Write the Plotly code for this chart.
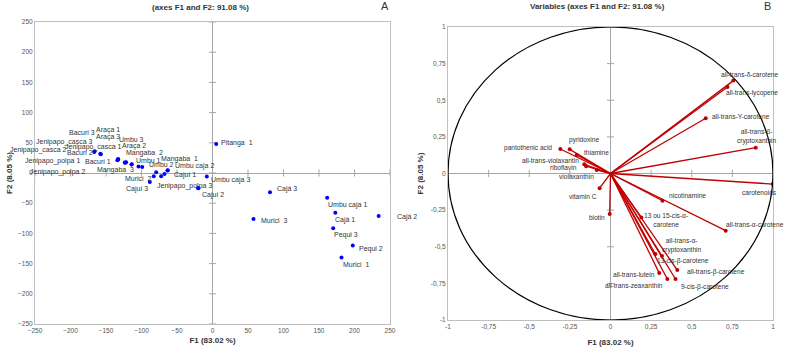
import plotly.graph_objects as go

# ---------------- Observations (panel A) ----------------
obs_labels = ["Jenipapo_casca 2", "Jenipapo_casca 3", "Jenipapo_casca 1", "Bacuri 2", "Bacuri 3",
              "Bacuri 1", "Jenipapo_polpa 1", "Araça 1", "Araça 3", "Jenipapo_polpa 2",
              "Umbu 3", "Araça 2", "Mangaba  2", "Umbu 1", "Umbu 2",
              "Mangaba  1", "Umbu caja 2", "Mangaba  3", "Murici  2", "Cajuí 1",
              "Cajuí 3", "Umbu caja 3", "Jenipapo_polpa 3", "Cajuí 2", "Pitanga  1",
              "Cajá 3", "Murici  3", "Umbu caja 1", "Cajá 1", "Pequi 3",
              "Pequi 2", "Murici  1", "Cajá 2"]
obs_f1 = [-166.6, -166.0, -157.3, -158.0, -133.0,
          -132.8, -134.0, -123.5, -121.6, -123.0,
          -113.7, -114.0, -104.2, -99.0, -79.3,
          -63.4, -63.0, -67.6, -82.7, -72.3,
          -88.3, -8.0, -20.1, -20.0, 5.2,
          81.0, 57.7, 161.5, 173.0, 170.0,
          197.6, 181.7, 234.0]
obs_f2 = [34.8, 36.0, 31.0, 32.0, 23.0,
          22.2, 21.0, 17.2, 17.7, 17.0,
          14.4, 14.0, 10.6, 9.9, 1.2,
          4.0, 4.5, -1.7, -5.5, -5.5,
          -14.9, -6.0, -25.3, -25.0, 48.0,
          -32.0, -76.0, -40.8, -66.0, -91.6,
          -120.0, -140.0, -71.0]
# label offsets in pixels (style)
obs_dx = [-56, -30, -7, -20, -36, -20.5, -65, -16.5, -18, -68,
          0, 2, 5.5, 6, 5, 12.5, 27, -49.5, -15.5, 24,
          -12.5, 24, -14, 15, 21, 17, 21.5, 20, 10, 12.5,
          18, 14.5, 28.5]
obs_dy = [2, 9, 7, 1, 27, -2, -1, 33, 25, -9,
          25, 18.5, 14, 7, 8, 12, 4, 4, -2, 1,
          -7, -3.5, 2.5, -6.5, 1, 3, -2, -7, -7, -7,
          -3.5, -7, -1.5]

obs_ticks = [-250, -200, -150, -100, -50, 0, 50, 100, 150, 200, 250]

# ---------------- Variables (panel B) ----------------
var_labels = ["all-trans-δ-carotene", "all-trans-lycopene", "all-trans-Y-carotene",
              "all-trans-β-<br>cryptoxanthin", "carotenoids", "pantothenic acid", "pyridoxine",
              "thiamine", "all-trans-violaxantin", "riboflavin", "violaxanthin", "vitamin C",
              "biotin", "nicotinamine", "all-trans-α-carotene", "13 ou 15-cis-α-<br>carotene",
              "all-trans-α-<br>cryptoxanthin", "13-cis-β-carotene", "all-trans-β-carotene",
              "all-trans-lutein", "all-trans-zeaxanthin", "9-cis-β-carotene"]
var_f1 = [0.756, 0.720, 0.586, 0.894, 0.998, -0.309, -0.251, -0.208, -0.161, -0.150, -0.085,
          -0.067, -0.005, 0.320, 0.709, 0.190, 0.317, 0.276, 0.411, 0.300, 0.350, 0.400]
var_f2 = [0.634, 0.590, 0.377, 0.176, -0.072, 0.167, 0.165, 0.126, 0.063, 0.050, 0.024,
          -0.100, -0.276, -0.186, -0.390, -0.300, -0.563, -0.550, -0.659, -0.680, -0.720, -0.720]
var_dx = [17, 24.5, 35, 1, -13, -32, 14, 20, -34, -23, -20, -17,
          -13, 25, 29, 25, 20, 28, 39, -25, -33, 29]
var_dy = [6, -6, 2, 11, -8, 1, 9, 3, 4, -1, -7, -8,
          -4, 5, 6, -2.5, 10.5, -6.6, -2, -1, -7, -8]

var_ticks = [-1, -0.75, -0.5, -0.25, 0, 0.25, 0.5, 0.75, 1]
var_ticktext = ["-1", "-0,75", "-0,5", "-0,25", "0", "0,25", "0,5", "0,75", "1"]

RED = "#C00000"
GRAY = "#A6A6A6"
TXT = "#333333"
FONT = "Liberation Sans, Arial, sans-serif"

fig = go.Figure()

# zero-axis tick marks (panel A)
fig.add_trace(go.Scatter(x=[0] * len(obs_ticks), y=obs_ticks, mode="markers",
                         marker=dict(symbol="line-ew", size=5, line=dict(color=GRAY, width=1)),
                         xaxis="x", yaxis="y", hoverinfo="skip", showlegend=False))
fig.add_trace(go.Scatter(x=obs_ticks, y=[0] * len(obs_ticks), mode="markers",
                         marker=dict(symbol="line-ns", size=5, line=dict(color=GRAY, width=1)),
                         xaxis="x", yaxis="y", hoverinfo="skip", showlegend=False))
# observations
fig.add_trace(go.Scatter(x=obs_f1, y=obs_f2, mode="markers",
                         marker=dict(color="#0000FF", size=4),
                         xaxis="x", yaxis="y", showlegend=False, text=obs_labels))

# zero-axis tick marks (panel B)
fig.add_trace(go.Scatter(x=[0] * len(var_ticks), y=var_ticks, mode="markers",
                         marker=dict(symbol="line-ew", size=5, line=dict(color=GRAY, width=1)),
                         xaxis="x2", yaxis="y2", hoverinfo="skip", showlegend=False))
fig.add_trace(go.Scatter(x=var_ticks, y=[0] * len(var_ticks), mode="markers",
                         marker=dict(symbol="line-ns", size=5, line=dict(color=GRAY, width=1)),
                         xaxis="x2", yaxis="y2", hoverinfo="skip", showlegend=False))

# vectors
vx, vy = [], []
for a, b in zip(var_f1, var_f2):
    vx += [0, a, None]
    vy += [0, b, None]
fig.add_trace(go.Scatter(x=vx, y=vy, mode="lines", line=dict(color=RED, width=1.3),
                         xaxis="x2", yaxis="y2", hoverinfo="skip", showlegend=False))
fig.add_trace(go.Scatter(x=var_f1, y=var_f2, mode="markers", marker=dict(color=RED, size=4),
                         xaxis="x2", yaxis="y2", showlegend=False, text=var_labels))

# correlation circle
fig.add_shape(type="circle", xref="x2", yref="y2", x0=-1, y0=-1, x1=1, y1=1,
              line=dict(color="black", width=1.2), layer="above")

ann = []
for t, x, y, dx, dy in zip(obs_labels, obs_f1, obs_f2, obs_dx, obs_dy):
    ann.append(dict(text=t, x=x, y=y, xref="x", yref="y", showarrow=False,
                    xshift=dx, yshift=dy, xanchor="center", yanchor="middle",
                    font=dict(family=FONT, size=7, color=TXT)))
for t, x, y, dx, dy in zip(var_labels, var_f1, var_f2, var_dx, var_dy):
    ann.append(dict(text=t, x=x, y=y, xref="x2", yref="y2", showarrow=False,
                    xshift=dx, yshift=dy, xanchor="center", yanchor="middle",
                    font=dict(family=FONT, size=6.6, color=TXT)))

# titles and panel letters
ann += [
    dict(text="<b>(axes F1 and F2: 91.08 %)</b>", x=200 / 787, y=1 - 7 / 360, xref="paper", yref="paper",
         showarrow=False, xanchor="center", yanchor="middle", font=dict(family=FONT, size=8, color="#333")),
    dict(text="<b>Variables (axes F1 and F2: 91.08 %)</b>", x=597 / 787, y=1 - 6 / 360, xref="paper",
         yref="paper", showarrow=False, xanchor="center", yanchor="middle",
         font=dict(family=FONT, size=8, color="#333")),
    dict(text="A", x=385 / 787, y=1 - 6 / 360, xref="paper", yref="paper", showarrow=False,
         xanchor="center", yanchor="middle", font=dict(family=FONT, size=11, color="#333")),
    dict(text="B", x=767 / 787, y=1 - 6 / 360, xref="paper", yref="paper", showarrow=False,
         xanchor="center", yanchor="middle", font=dict(family=FONT, size=11, color="#333")),
]

axis_common = dict(showgrid=False, zeroline=True, zerolinecolor=GRAY, zerolinewidth=1,
                   showline=True, linecolor="#BFBFBF", linewidth=1, mirror=True,
                   ticks="", tickfont=dict(family=FONT, size=6.5, color="#555"),
                   fixedrange=True, automargin=False)
title_font = dict(family=FONT, size=8, color="#333")

fig.update_layout(
    width=787, height=360, autosize=False,
    margin=dict(l=0, r=0, t=0, b=0),
    paper_bgcolor="white", plot_bgcolor="white",
    showlegend=False,
    annotations=ann,
    xaxis=dict(domain=[35 / 787, 390 / 787], range=[-250, 250], tickvals=obs_ticks,
               title=dict(text="<b>F1 (83.02 %)</b>", font=title_font, standoff=4),
               anchor="y", **axis_common),
    yaxis=dict(domain=[36 / 360, 338 / 360], range=[-250, 250], tickvals=obs_ticks,
               title=dict(text="<b>F2 (8.05 %)</b>", font=title_font, standoff=4),
               anchor="x", **axis_common),
    xaxis2=dict(domain=[448 / 787, 773 / 787], range=[-1, 1], tickvals=var_ticks, ticktext=var_ticktext,
                title=dict(text="<b>F1 (83.02 %)</b>", font=title_font, standoff=10),
                anchor="y2", **axis_common),
    yaxis2=dict(domain=[40 / 360, 333 / 360], range=[-1, 1], tickvals=var_ticks, ticktext=var_ticktext,
                title=dict(text="<b>F2 (8.05 %)</b>", font=title_font, standoff=6),
                anchor="x2", **axis_common),
)

fig.write_html("out.html", config={"displayModeBar": False},
               post_script="document.body.style.margin='0';document.body.style.padding='0';")
